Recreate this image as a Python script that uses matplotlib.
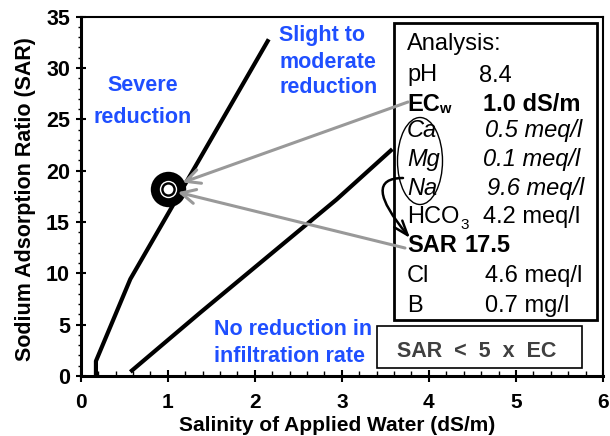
import numpy as np
import matplotlib
matplotlib.use("Agg")
import matplotlib.pyplot as plt
from matplotlib.patches import Rectangle, Ellipse, FancyArrowPatch
from matplotlib.path import Path
from matplotlib.ticker import MultipleLocator

plt.rcParams['font.family'] = ['Liberation Sans', 'DejaVu Sans']

# --- data ---
SEVERE_EC = [0.175, 0.175, 0.57, 2.16]
SEVERE_SAR = [0.0, 1.45, 9.44, 32.8]
NONE_EC = [0.57, 1.37, 2.94, 3.58]
NONE_SAR = [0.4, 6.15, 17.2, 22.1]
POINT_EC = [1.0]
POINT_SAR = [18.2]

X_TICKS = [0, 1, 2, 3, 4, 5, 6]
Y_TICKS = [0, 5, 10, 15, 20, 25, 30, 35]

ANALYSIS_LABELS = ["Analysis:", "pH", "EC", "Ca", "Mg", "Na", "HCO", "SAR", "Cl", "B"]
ANALYSIS_VALUES = ["", "8.4", "1.0 dS/m", "0.5 meq/l", "0.1 meq/l", "9.6 meq/l",
                   "4.2 meq/l", "17.5", "4.6 meq/l", "0.7 mg/l"]

BLUE = '#1f4fff'
GREY = '#999999'
W, H = 610, 436


def fp(x, y):
    # figure pixels (top-left origin) -> figure fraction
    return (x / W, 1 - y / H)


fig = plt.figure(figsize=(6.1, 4.36), dpi=100)
ax = fig.add_axes([80.7 / W, 1 - 376 / H, (603 - 80.7) / W, (376 - 16.7) / H])
ax.set_xlim(0, 6)
ax.set_ylim(0, 35)
ax.set_autoscale_on(False)

# boundary lines
ax.plot(SEVERE_EC, SEVERE_SAR, color='k', lw=3, solid_capstyle='butt', zorder=2)
ax.plot(NONE_EC, NONE_SAR, color='k', lw=3, solid_capstyle='butt', zorder=2)

# concentric marker
ax.plot(POINT_EC, POINT_SAR, 'o', ms=25.5, color='k', mec='none', zorder=4)
ax.plot(POINT_EC, POINT_SAR, 'o', ms=12.5, color='white', mec='none', zorder=4)
ax.plot(POINT_EC, POINT_SAR, 'o', ms=10.5, color='k', mec='none', zorder=4)
ax.plot(POINT_EC, POINT_SAR, 'o', ms=7, color='white', mec='none', zorder=4)

# region labels
ax.text(0.714, 27.76, "Severe", color=BLUE, fontsize=15.5, fontweight='bold', ha='center', va='baseline')
ax.text(0.714, 24.67, "reduction", color=BLUE, fontsize=15.5, fontweight='bold', ha='center', va='baseline')
for txt, yy in zip(["Slight to", "moderate", "reduction"], [32.65, 30.05, 27.6]):
    ax.text(2.28, yy, txt, color=BLUE, fontsize=15.5, fontweight='bold', ha='left', va='baseline')
for txt, yy in zip(["No reduction in", "infiltration rate"], [4.0, 1.4]):
    ax.text(1.53, yy, txt, color=BLUE, fontsize=15.5, fontweight='bold', ha='left', va='baseline')

# analysis box
ax.add_patch(Rectangle(fp(394, 320), 203 / W, 297 / H, transform=fig.transFigure,
                       facecolor='white', edgecolor='k', lw=2, zorder=5, clip_on=False))
ax.add_patch(Rectangle(fp(377, 368), 205 / W, 42 / H, transform=fig.transFigure,
                       facecolor='white', edgecolor='k', lw=1.2, zorder=5, clip_on=False))
ax.text(*fp(477, 356.7), "SAR  <  5  x  EC", transform=fig.transFigure, fontsize=15.5,
        fontweight='bold', color='#404040', ha='center', va='baseline', zorder=7)

renderer = fig.canvas.get_renderer()
row_y = [50, 81.5, 111, 137, 166, 195, 223, 252, 282, 312]
val_x = [0, 479, 483, 485, 483, 487, 483, 464, 485, 485]
label_artists = {}
for i, (lab, val) in enumerate(zip(ANALYSIS_LABELS, ANALYSIS_VALUES)):
    weight = 'bold' if lab in ("EC", "SAR") else 'normal'
    style = 'italic' if lab in ("Ca", "Mg", "Na") else 'normal'
    label_artists[lab] = ax.text(*fp(407, row_y[i]), lab, transform=fig.transFigure, fontsize=17,
                                 fontweight=weight, fontstyle=style, ha='left', va='baseline', zorder=7)
    if val:
        ax.text(*fp(val_x[i], row_y[i]), val, transform=fig.transFigure, fontsize=17,
                fontweight=weight, fontstyle=style, ha='left', va='baseline', zorder=7)

# subscripts placed right after their labels
x_ec = label_artists["EC"].get_window_extent(renderer).x1
ax.text((x_ec - 1) / W, fp(0, row_y[2] + 2)[1], "w", transform=fig.transFigure, fontsize=10.5,
        fontweight='bold', ha='left', va='baseline', zorder=7)
x_hco = label_artists["HCO"].get_window_extent(renderer).x1
ax.text((x_hco + 1) / W, fp(0, row_y[6] + 6)[1], "3", transform=fig.transFigure, fontsize=11,
        ha='left', va='baseline', zorder=7)

ax.add_patch(Ellipse(fp(420, 161), 45 / W, 87 / H, transform=fig.transFigure,
                     fill=False, edgecolor='k', lw=1, zorder=7, clip_on=False))

# arrows
grey_arrow = dict(arrowstyle='->,head_length=0.6,head_width=0.3', color=GREY, lw=2.2,
                  mutation_scale=17, shrinkA=0, shrinkB=0)
ax.annotate('', xy=(1.17, 18.85), xycoords='data', xytext=fp(408, 102),
            textcoords='figure fraction', arrowprops=grey_arrow, zorder=8, annotation_clip=False)
ax.annotate('', xy=(1.116, 17.9), xycoords='data', xytext=fp(405, 248),
            textcoords='figure fraction', arrowprops=grey_arrow, zorder=8, annotation_clip=False)

curve = Path([fp(403, 178), fp(360, 178), fp(410, 238)],
             [Path.MOVETO, Path.CURVE3, Path.CURVE3])
ax.add_patch(FancyArrowPatch(path=curve, arrowstyle='->,head_length=0.7,head_width=0.25',
                             mutation_scale=15, color='k', lw=1.8, transform=fig.transFigure,
                             zorder=8, clip_on=False))

# axes styling
ax.set_xticks(X_TICKS)
ax.set_yticks(Y_TICKS)
ax.xaxis.set_minor_locator(MultipleLocator(0.2))
ax.yaxis.set_minor_locator(MultipleLocator(1))
ax.tick_params(axis='x', which='major', direction='inout', length=8, width=1.5, labelsize=15, pad=8)
ax.tick_params(axis='x', which='minor', direction='in', length=3.5, width=1)
ax.tick_params(axis='y', which='major', direction='inout', length=7, width=1.5, labelsize=15.5, pad=4.2)
ax.tick_params(axis='y', which='minor', direction='out', length=2.5, width=1)
for lbl in ax.get_xticklabels() + ax.get_yticklabels():
    lbl.set_fontweight('bold')
for sp in ax.spines.values():
    sp.set_linewidth(1.5)
ax.spines['bottom'].set_linewidth(2.2)
ax.spines['left'].set_linewidth(2.2)

fig.text(*fp(26, 199), "Sodium Adsorption Ratio (SAR)", rotation=90, fontsize=15.5,
         fontweight='bold', ha='center', va='center')
fig.text(*fp(337, 431), "Salinity of Applied Water (dS/m)", fontsize=15,
         fontweight='bold', ha='center', va='baseline')

fig.savefig("out.png", dpi=100, facecolor='white')
